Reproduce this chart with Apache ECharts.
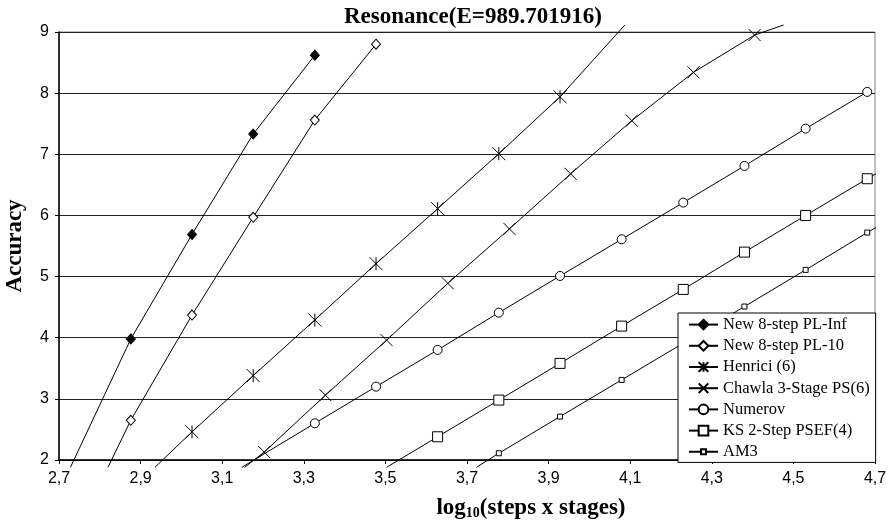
<!DOCTYPE html>
<html>
<head>
<meta charset="utf-8">
<script src="https://cdn.jsdelivr.net/npm/echarts@6/dist/echarts.min.js"></script>
<style>
  html, body { margin: 0; padding: 0; background: #fff; }
  #main { width: 891px; height: 526px; }
</style>
</head>
<body>
<div id="main"></div>
<script>
// x = log10(steps x stages), y = accuracy (end points lie just outside the axes)
var plInfX = [2.728, 2.876, 3.026, 3.176, 3.327];
var plInfY = [1.88, 3.98, 5.69, 7.33, 8.62];
var pl10X = [2.820, 2.876, 3.026, 3.176, 3.327, 3.477];
var pl10Y = [1.88, 2.65, 4.37, 5.97, 7.56, 8.80];
var henX = [2.935, 3.026, 3.176, 3.327, 3.477, 3.628, 3.778, 3.928, 4.087];
var henY = [1.88, 2.46, 3.38, 4.29, 5.21, 6.11, 7.01, 7.94, 9.115];
var chaX = [3.155, 3.203, 3.353, 3.503, 3.653, 3.804, 3.954, 4.104, 4.255, 4.405, 4.476];
var chaY = [1.88, 2.13, 3.06, 3.96, 4.89, 5.78, 6.68, 7.55, 8.34, 8.95, 9.115];
var numX = [3.148, 3.327, 3.477, 3.628, 3.778, 3.928, 4.079, 4.230, 4.380, 4.530, 4.681];
var numY = [1.88, 2.60, 3.20, 3.80, 4.41, 5.01, 5.61, 6.21, 6.81, 7.42, 8.02];
var ksX = [3.503, 3.628, 3.778, 3.928, 4.079, 4.230, 4.380, 4.530, 4.681, 4.72];
var ksY = [1.88, 2.38, 2.98, 3.58, 4.19, 4.79, 5.40, 6.00, 6.60, 6.75];
var am3X = [3.723, 3.778, 3.928, 4.079, 4.230, 4.380, 4.530, 4.681, 4.72];
var am3Y = [1.88, 2.11, 2.71, 3.31, 3.91, 4.51, 5.11, 5.72, 5.87];

var names = ['New 8-step PL-Inf', 'New 8-step PL-10', 'Henrici (6)', 'Chawla 3-Stage PS(6)',
  'Numerov', 'KS 2-Step PSEF(4)', 'AM3'];

var xMin = 2.7, xMax = 4.7, yMin = 2, yMax = 9;

// marker shapes
var asterisk = 'path://M5,0L5,10M0,0L10,10M10,0L0,10';
var cross = 'path://M0,0L10,10M10,0L0,10';
// legend icon for AM3: line with a small square in the middle
var smallSquareIcon = 'path://M0,6L12,6M17,6L29,6M12,3.5L17,3.5L17,8.5L12,8.5Z';

function pts(xs, ys) {
  var out = [];
  for (var i = 0; i < xs.length; i++) {
    var inside = xs[i] >= xMin && xs[i] <= xMax && ys[i] >= yMin && ys[i] <= yMax;
    var p = { value: [xs[i], ys[i]] };
    if (!inside) p.symbol = 'none';
    out.push(p);
  }
  return out;
}

function mkSeries(name, xs, ys, symbol, size, fill) {
  return {
    name: name,
    type: 'line',
    data: pts(xs, ys),
    clip: false,
    symbol: symbol,
    symbolSize: size,
    lineStyle: { color: '#000', width: 1 },
    itemStyle: { color: fill, borderColor: '#000', borderWidth: 1 },
    emphasis: { disabled: true }
  };
}

var legendData = names.map(function (n) {
  return n === 'AM3' ? { name: n, icon: smallSquareIcon } : n;
});

var chart = echarts.init(document.getElementById('main'));
chart.setOption({
  animation: false,
  title: {
    text: 'Resonance(E=989.701916)',
    left: 344,
    top: 6,
    padding: 0,
    textStyle: { fontFamily: 'Liberation Serif', fontWeight: 'bold', fontSize: 23, color: '#000' }
  },
  grid: {
    left: 59, right: 16, top: 32, bottom: 66,
    containLabel: false,
    outerBoundsMode: 'none',
    show: true, borderColor: '#808080', borderWidth: 1
  },
  legend: {
    orient: 'vertical',
    left: 678,
    top: 313,
    width: 197,
    padding: [1, 6, 0, 10],
    itemGap: 0,
    itemWidth: 29,
    itemHeight: 12,
    backgroundColor: '#fff',
    borderColor: '#000',
    borderWidth: 1,
    borderRadius: 0,
    data: legendData,
    textStyle: { fontFamily: 'Liberation Serif', fontSize: 16.5, color: '#000', lineHeight: 21.2 }
  },
  xAxis: {
    type: 'value',
    min: xMin,
    max: xMax,
    interval: 0.2,
    name: 'log{sub|10}(steps x stages)',
    nameLocation: 'middle',
    nameGap: 37,
    nameTextStyle: {
      fontFamily: 'Liberation Serif', fontWeight: 'bold', fontSize: 23, color: '#000',
      padding: [0, 0, 0, 128],
      rich: {
        sub: { fontFamily: 'Liberation Serif', fontWeight: 'bold', fontSize: 14, color: '#000',
          verticalAlign: 'bottom', padding: [8, 0, 0, 0] }
      }
    },
    axisLine: { lineStyle: { color: '#000', width: 1.5 } },
    axisTick: { show: true, length: 4, lineStyle: { color: '#000' } },
    axisLabel: {
      margin: 11,
      fontFamily: 'Liberation Sans', fontSize: 16, color: '#000',
      formatter: function (v) { return v.toFixed(1).replace('.', ','); }
    },
    splitLine: { show: false }
  },
  yAxis: {
    type: 'value',
    min: yMin,
    max: yMax,
    interval: 1,
    name: 'Accuracy',
    nameLocation: 'middle',
    nameGap: 32,
    nameTextStyle: { fontFamily: 'Liberation Serif', fontWeight: 'bold', fontSize: 23, color: '#000' },
    axisLine: { show: true, lineStyle: { color: '#000', width: 1.5 } },
    axisTick: { show: true, length: 4, lineStyle: { color: '#000' } },
    axisLabel: { margin: 10, fontFamily: 'Liberation Sans', fontSize: 16, color: '#000' },
    splitLine: { lineStyle: { color: '#222', width: 1 } }
  },
  series: [
    mkSeries(names[0], plInfX, plInfY, 'diamond', [9, 10], '#000'),
    mkSeries(names[1], pl10X, pl10Y, 'diamond', [9, 10], '#fff'),
    mkSeries(names[2], henX, henY, asterisk, 13, 'transparent'),
    mkSeries(names[3], chaX, chaY, cross, 12, 'transparent'),
    mkSeries(names[4], numX, numY, 'circle', 9, '#fff'),
    mkSeries(names[5], ksX, ksY, 'rect', 10, '#fff'),
    mkSeries(names[6], am3X, am3Y, 'rect', 5, '#fff')
  ]
});
</script>
</body>
</html>
